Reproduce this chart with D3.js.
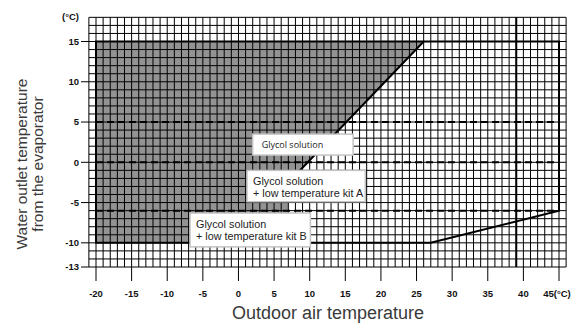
<!DOCTYPE html>
<html>
<head>
<meta charset="utf-8">
<script src="https://cdn.jsdelivr.net/npm/d3@7"></script>
<style>
  html, body { margin: 0; padding: 0; background: #fff; }
  svg { display: block; }
  .tick-label { font-family: "Liberation Sans", Arial, sans-serif; font-weight: bold; font-size: 9.5px; fill: #111; }
  .axis-title { font-family: "Liberation Sans", Arial, sans-serif; fill: #3a3a3a; }
  .box-text { font-family: "Liberation Sans", Arial, sans-serif; font-size: 10.8px; fill: #222; }
  .box-text-small { font-family: "Open Sans", sans-serif; font-size: 9px; fill: #222; }
</style>
</head>
<body>
<div id="chart"></div>
<script>
// ---- data ----
const xTicks = [-20, -15, -10, -5, 0, 5, 10, 15, 20, 25, 30, 35, 40, 45];
const xTickLabels = ["-20", "-15", "-10", "-5", "0", "5", "10", "15", "20", "25", "30", "35", "40", "45(°C)"];
const yTicks = [15, 10, 5, 0, -5, -10, -13];
const yTickLabels = ["15", "10", "5", "0", "-5", "-10", "-13"];
const gridXRange = [-21, 46];
const gridYRange = [-13, 18];

// operating envelope (outer thick outline)
const envelope = [[-20, 15], [45, 15], [45, -6], [27, -10], [-20, -10]];
// shaded area : water only
const shadedArea = [[-20, 15], [26, 15], [7, -2.5], [7, -10], [-20, -10]];
const shadedEdge = [[26, 15], [7, -2.5]];
const dashedLevels = [5, 0, -6];
const verticalMarker = 39;

const boxLabels = [
  { lines: ["Glycol solution"], x0: 2.0, x1: 16.1, y0: 3.5, y1: 0.9, small: true },
  { lines: ["Glycol solution", "+ low temperature kit A"], x0: 1.2, x1: 17.8, y0: -1, y1: -4.9, small: false },
  { lines: ["Glycol solution", "+ low temperature kit B"], x0: -6.8, x1: 10.1, y0: -6.3, y1: -10.5, small: false }
];

// ---- chart ----
const width = 579, height = 323;

const svg = d3.select("#chart").append("svg")
  .attr("width", width)
  .attr("height", height);

const x = d3.scaleLinear().domain([-20, 45]).range([96, 559]);
const y = d3.scaleLinear().domain([15, -13]).range([41.5, 267]);

const line = d3.line().x(d => x(d[0])).y(d => y(d[1]));

// shaded area
svg.append("path")
  .attr("d", line(shadedArea) + "Z")
  .attr("fill", "#939393");

// fine grid (1 °C steps)
const gx = d3.range(gridXRange[0], gridXRange[1] + 1);
const gy = d3.range(gridYRange[0], gridYRange[1] + 1);

svg.append("g").selectAll("line").data(gx).join("line")
  .attr("x1", d => x(d)).attr("x2", d => x(d))
  .attr("y1", y(gridYRange[1])).attr("y2", y(gridYRange[0]))
  .attr("stroke", "#000").attr("stroke-width", 1);

svg.append("g").selectAll("line").data(gy).join("line")
  .attr("y1", d => y(d)).attr("y2", d => y(d))
  .attr("x1", x(gridXRange[0])).attr("x2", x(gridXRange[1]))
  .attr("stroke", "#000").attr("stroke-width", 1);

// tick marks
svg.append("g").selectAll("line").data(yTicks).join("line")
  .attr("x1", 81).attr("x2", x(gridXRange[0]))
  .attr("y1", d => y(d)).attr("y2", d => y(d))
  .attr("stroke", "#000").attr("stroke-width", 1);

svg.append("g").selectAll("line").data(xTicks).join("line")
  .attr("x1", d => x(d)).attr("x2", d => x(d))
  .attr("y1", y(gridYRange[0])).attr("y2", 281)
  .attr("stroke", "#000").attr("stroke-width", 1);

// tick labels
svg.append("g").selectAll("text").data(yTicks).join("text")
  .attr("class", "tick-label")
  .attr("x", 79)
  .attr("y", d => y(d) + 3.3)
  .attr("text-anchor", "end")
  .text((d, i) => yTickLabels[i]);

svg.append("text")
  .attr("class", "tick-label")
  .attr("x", 79).attr("y", 20)
  .attr("text-anchor", "end")
  .text("(°C)");

svg.append("g").selectAll("text").data(xTicks).join("text")
  .attr("class", "tick-label")
  .attr("x", (d, i) => i === xTicks.length - 1 ? x(d) - 2 : x(d))
  .attr("y", 297)
  .attr("text-anchor", "middle")
  .text((d, i) => xTickLabels[i]);

// thick outlines
svg.append("path")
  .attr("d", line(envelope) + "Z")
  .attr("fill", "none")
  .attr("stroke", "#000")
  .attr("stroke-width", 2);

svg.append("path")
  .attr("d", line(shadedEdge))
  .attr("fill", "none")
  .attr("stroke", "#000")
  .attr("stroke-width", 2);

svg.append("line")
  .attr("x1", x(verticalMarker)).attr("x2", x(verticalMarker))
  .attr("y1", y(gridYRange[1])).attr("y2", y(gridYRange[0]))
  .attr("stroke", "#000").attr("stroke-width", 2);

// dashed levels
svg.append("g").selectAll("line").data(dashedLevels).join("line")
  .attr("x1", x(-20)).attr("x2", x(44.6))
  .attr("y1", d => y(d)).attr("y2", d => y(d))
  .attr("stroke", "#000").attr("stroke-width", 2)
  .attr("stroke-dasharray", "7,4");

// label boxes
const boxes = svg.append("g").selectAll("g").data(boxLabels).join("g");

boxes.append("rect")
  .attr("x", d => x(d.x0))
  .attr("y", d => y(d.y0))
  .attr("width", d => x(d.x1) - x(d.x0))
  .attr("height", d => y(d.y1) - y(d.y0))
  .attr("fill", "#fff")
  .attr("stroke", "#c4c4c4")
  .attr("stroke-width", 1.5);

boxes.each(function (d) {
  const g = d3.select(this);
  const left = x(d.x0) + (d.small ? 9 : 6);
  const top = y(d.y0);
  d.lines.forEach((t, i) => {
    g.append("text")
      .attr("class", d.small ? "box-text-small" : "box-text")
      .attr("x", left)
      .attr("y", d.small ? top + 13.5 : top + 15 + i * 11.7)
      .text(t);
  });
});

// axis titles
svg.append("text")
  .attr("class", "axis-title")
  .style("font-size", "18px")
  .attr("x", 328).attr("y", 319)
  .attr("text-anchor", "middle")
  .text("Outdoor air temperature");

const yTitle = svg.append("g")
  .attr("transform", "translate(0,164) rotate(-90)");
yTitle.append("text")
  .attr("class", "axis-title")
  .style("font-size", "15.5px")
  .attr("x", 0).attr("y", 27)
  .attr("text-anchor", "middle")
  .text("Water outlet temperature");
yTitle.append("text")
  .attr("class", "axis-title")
  .style("font-size", "15.5px")
  .attr("x", 0).attr("y", 43)
  .attr("text-anchor", "middle")
  .text("from the evaporator");
</script>
</body>
</html>
